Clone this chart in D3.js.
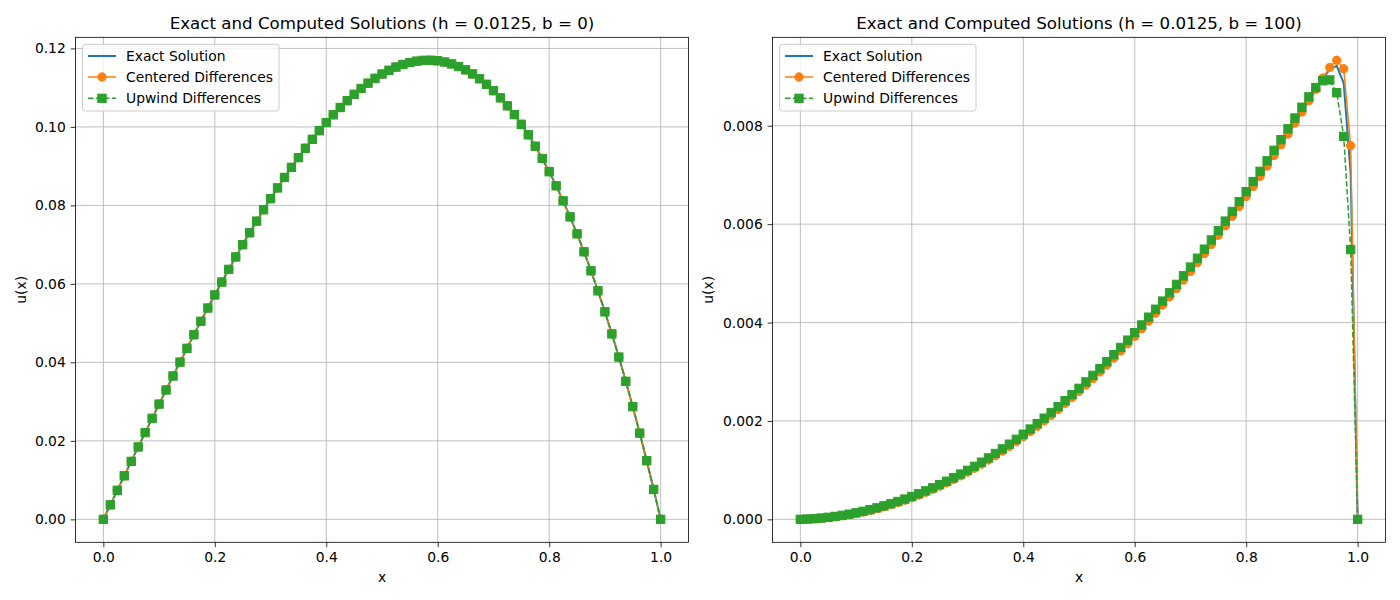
<!DOCTYPE html>
<html>
<head>
<meta charset="utf-8">
<script src="https://cdn.jsdelivr.net/npm/d3@7"></script>
<style>
  body { margin: 0; background: #fff; }
  svg { display: block; }
  text { font-family: "DejaVu Sans", sans-serif; fill: #000; }
</style>
</head>
<body>
<svg id="chart" width="1400" height="600"></svg>
<script>
// ---------------- data ----------------
const xGrid = [0, 0.0125, 0.025, 0.0375, 0.05, 0.0625, 0.075, 0.0875, 0.1, 0.1125, 0.125, 0.1375, 0.15, 0.1625, 0.175, 0.1875,
  0.2, 0.2125, 0.225, 0.2375, 0.25, 0.2625, 0.275, 0.2875, 0.3, 0.3125, 0.325, 0.3375, 0.35, 0.3625, 0.375, 0.3875,
  0.4, 0.4125, 0.425, 0.4375, 0.45, 0.4625, 0.475, 0.4875, 0.5, 0.5125, 0.525, 0.5375, 0.55, 0.5625, 0.575, 0.5875,
  0.6, 0.6125, 0.625, 0.6375, 0.65, 0.6625, 0.675, 0.6875, 0.7, 0.7125, 0.725, 0.7375, 0.75, 0.7625, 0.775, 0.7875,
  0.8, 0.8125, 0.825, 0.8375, 0.85, 0.8625, 0.875, 0.8875, 0.9, 0.9125, 0.925, 0.9375, 0.95, 0.9625, 0.975, 0.9875, 1.0];

// b = 0 panel
const leftExact = [0, 0.003700, 0.007397, 0.011089, 0.014773, 0.018445, 0.022104, 0.025745, 0.029365, 0.032961, 0.036530,
  0.040069, 0.043574, 0.047041, 0.050467, 0.053850, 0.057184, 0.060467, 0.063696, 0.066866, 0.069974, 0.073016, 0.075990,
  0.078890, 0.081715, 0.084459, 0.087119, 0.089692, 0.092174, 0.094561, 0.096849, 0.099035, 0.101115, 0.103085, 0.104941,
  0.106680, 0.108297, 0.109789, 0.111153, 0.112384, 0.113478, 0.114431, 0.115241, 0.115901, 0.116411, 0.116764, 0.116957,
  0.116987, 0.116850, 0.116538, 0.116052, 0.115387, 0.114539, 0.113502, 0.112275, 0.110852, 0.109230, 0.107404, 0.105371,
  0.103126, 0.100666, 0.097987, 0.095085, 0.091955, 0.088593, 0.084995, 0.081158, 0.077078, 0.072749, 0.068169, 0.063333,
  0.058237, 0.052877, 0.047248, 0.041350, 0.035172, 0.028716, 0.021972, 0.014944, 0.007621, 0];
const leftCentered = [0, 0.003700, 0.007397, 0.011089, 0.014773, 0.018445, 0.022104, 0.025745, 0.029365, 0.032961, 0.036530,
  0.040069, 0.043574, 0.047041, 0.050467, 0.053850, 0.057184, 0.060467, 0.063696, 0.066866, 0.069974, 0.073016, 0.075990,
  0.078890, 0.081715, 0.084459, 0.087119, 0.089692, 0.092174, 0.094561, 0.096849, 0.099035, 0.101115, 0.103085, 0.104941,
  0.106680, 0.108297, 0.109789, 0.111153, 0.112384, 0.113478, 0.114431, 0.115241, 0.115901, 0.116411, 0.116764, 0.116957,
  0.116987, 0.116850, 0.116538, 0.116052, 0.115387, 0.114539, 0.113502, 0.112275, 0.110852, 0.109230, 0.107404, 0.105371,
  0.103126, 0.100666, 0.097987, 0.095085, 0.091955, 0.088593, 0.084995, 0.081158, 0.077078, 0.072749, 0.068169, 0.063333,
  0.058237, 0.052877, 0.047248, 0.041350, 0.035172, 0.028716, 0.021972, 0.014944, 0.007621, 0];
const leftUpwind = [0, 0.003700, 0.007397, 0.011089, 0.014773, 0.018445, 0.022104, 0.025745, 0.029365, 0.032961, 0.036530,
  0.040069, 0.043574, 0.047041, 0.050467, 0.053850, 0.057184, 0.060467, 0.063696, 0.066866, 0.069974, 0.073016, 0.075990,
  0.078890, 0.081715, 0.084459, 0.087119, 0.089692, 0.092174, 0.094561, 0.096849, 0.099035, 0.101115, 0.103085, 0.104941,
  0.106680, 0.108297, 0.109789, 0.111153, 0.112384, 0.113478, 0.114431, 0.115241, 0.115901, 0.116411, 0.116764, 0.116957,
  0.116987, 0.116850, 0.116538, 0.116052, 0.115387, 0.114539, 0.113502, 0.112275, 0.110852, 0.109230, 0.107404, 0.105371,
  0.103126, 0.100666, 0.097987, 0.095085, 0.091955, 0.088593, 0.084995, 0.081158, 0.077078, 0.072749, 0.068169, 0.063333,
  0.058237, 0.052877, 0.047248, 0.041350, 0.035172, 0.028716, 0.021972, 0.014944, 0.007621, 0];

// b = 100 panel
const rightExact = [0, 0.00000406, 0.00001125, 0.00002156, 0.000035, 0.00005156, 0.00007125, 0.00009406, 0.00012, 0.00014906,
  0.00018125, 0.00021656, 0.000255, 0.00029656, 0.00034125, 0.00038906, 0.00044, 0.00049406, 0.00055125, 0.00061156,
  0.000675, 0.00074156, 0.00081125, 0.00088406, 0.00096, 0.00103906, 0.00112125, 0.00120656, 0.001295, 0.00138656,
  0.00148125, 0.00157906, 0.00168, 0.00178406, 0.00189125, 0.00200156, 0.002115, 0.00223156, 0.00235125, 0.00247406,
  0.0026, 0.00272906, 0.00286125, 0.00299656, 0.003135, 0.00327656, 0.00342125, 0.00356906, 0.00372, 0.00387406,
  0.00403125, 0.00419156, 0.004355, 0.00452156, 0.00469125, 0.00486406, 0.00504, 0.00521906, 0.00540125, 0.00558656,
  0.005775, 0.00596656, 0.00616125, 0.00635906, 0.00656, 0.00676406, 0.00697125, 0.00718156, 0.007395, 0.00761156,
  0.00783125, 0.00805393, 0.00827954, 0.00850744, 0.00873561, 0.00895687, 0.00914627, 0.00921668, 0.00886398, 0.0070267, 0];
const rightCentered = [0, 0.00000406, 0.00001125, 0.00002156, 0.000035, 0.00005156, 0.00007125, 0.00009406, 0.00012, 0.00014906,
  0.00018125, 0.00021656, 0.000255, 0.00029656, 0.00034125, 0.00038906, 0.00044, 0.00049406, 0.00055125, 0.00061156,
  0.000675, 0.00074156, 0.00081125, 0.00088406, 0.00096, 0.00103906, 0.00112125, 0.00120656, 0.001295, 0.00138656,
  0.00148125, 0.00157906, 0.00168, 0.00178406, 0.00189125, 0.00200156, 0.002115, 0.00223156, 0.00235125, 0.00247406,
  0.0026, 0.00272906, 0.00286125, 0.00299656, 0.003135, 0.00327656, 0.00342125, 0.00356906, 0.00372, 0.00387406,
  0.00403125, 0.00419156, 0.004355, 0.00452156, 0.00469125, 0.00486406, 0.00504, 0.00521906, 0.00540125, 0.00558656,
  0.005775, 0.00596656, 0.00616125, 0.00635906, 0.00656, 0.00676406, 0.00697125, 0.00718156, 0.007395, 0.00761156,
  0.00783125, 0.00805406, 0.00828, 0.0085087, 0.00873971, 0.00896988, 0.00918607, 0.00933121, 0.00915805, 0.00759521, 0];
const rightUpwind = [0, 0.00000563, 0.00001438, 0.00002625, 0.00004125, 0.00005938, 0.00008063, 0.000105, 0.0001325, 0.00016313,
  0.00019688, 0.00023375, 0.00027375, 0.00031688, 0.00036313, 0.0004125, 0.000465, 0.00052063, 0.00057938, 0.00064125,
  0.00070625, 0.00077438, 0.00084563, 0.00092, 0.0009975, 0.00107813, 0.00116188, 0.00124875, 0.00133875, 0.00143188,
  0.00152813, 0.0016275, 0.00173, 0.00183563, 0.00194438, 0.00205625, 0.00217125, 0.00228938, 0.00241063, 0.002535,
  0.0026625, 0.00279313, 0.00292688, 0.00306375, 0.00320375, 0.00334688, 0.00349313, 0.0036425, 0.003795, 0.00395063,
  0.00410938, 0.00427125, 0.00443625, 0.00460438, 0.00477563, 0.00495, 0.0051275, 0.00530813, 0.00549188, 0.00567875,
  0.00586875, 0.00606188, 0.00625813, 0.0064575, 0.00666, 0.00686563, 0.00707426, 0.00728598, 0.00750064, 0.007718,
  0.00793752, 0.00815801, 0.00837678, 0.00858776, 0.0087773, 0.0089147, 0.00893089, 0.00867044, 0.00778362, 0.00548361, 0];

const xTicks = [0, 0.2, 0.4, 0.6, 0.8, 1.0];
const leftYTicks = [0, 0.02, 0.04, 0.06, 0.08, 0.10, 0.12];
const rightYTicks = [0, 0.002, 0.004, 0.006, 0.008];
const seriesNames = ["Exact Solution", "Centered Differences", "Upwind Differences"];
const panelTitles = ["Exact and Computed Solutions (h = 0.0125, b = 0)",
                     "Exact and Computed Solutions (h = 0.0125, b = 100)"];
const xLabel = "x";
const yLabel = "u(x)";

// ---------------- drawing ----------------
const svg = d3.select("#chart");
svg.append("rect").attr("width", 1400).attr("height", 600).attr("fill", "#fff");

const C0 = "#1f77b4", C1 = "#ff7f0e", C2 = "#2ca02c";
const FS = 13.89;            // 10pt
const TICK = 4.86, PAD = 4.86;
const MS = 8.33;             // marker size (6pt)

const panels = [
  { box: { l: 75.5, r: 688.5, t: 37.3, b: 542.3 }, exact: leftExact, centered: leftCentered, upwind: leftUpwind,
    yTicks: leftYTicks, fmt: ".2f", title: panelTitles[0], ylabX: 25.5 },
  { box: { l: 772.5, r: 1385.5, t: 37.3, b: 542.3 }, exact: rightExact, centered: rightCentered, upwind: rightUpwind,
    yTicks: rightYTicks, fmt: ".3f", title: panelTitles[1], ylabX: 713 }
];

panels.forEach(p => {
  const B = p.box;
  const [x0, x1] = d3.extent(xGrid);
  const xm = 0.05 * (x1 - x0);
  const x = d3.scaleLinear().domain([x0 - xm, x1 + xm]).range([B.l, B.r]);
  const all = p.exact.concat(p.centered, p.upwind);
  const [y0, y1] = d3.extent(all);
  const ym = 0.05 * (y1 - y0);
  const y = d3.scaleLinear().domain([y0 - ym, y1 + ym]).range([B.b, B.t]);

  const g = svg.append("g");
  // background
  g.append("rect").attr("x", B.l).attr("y", B.t).attr("width", B.r - B.l).attr("height", B.b - B.t).attr("fill", "#fff");

  // grid
  g.append("g").selectAll("line").data(xTicks).join("line")
    .attr("x1", d => x(d)).attr("x2", d => x(d)).attr("y1", B.t).attr("y2", B.b)
    .attr("stroke", "#b0b0b0").attr("stroke-width", 0.8);
  g.append("g").selectAll("line").data(p.yTicks).join("line")
    .attr("x1", B.l).attr("x2", B.r).attr("y1", d => y(d)).attr("y2", d => y(d))
    .attr("stroke", "#b0b0b0").attr("stroke-width", 0.8);

  // axes
  const ax = g.append("g").attr("transform", `translate(0,${B.b})`)
    .call(d3.axisBottom(x).tickValues(xTicks).tickFormat(d3.format(".1f")).tickSize(TICK).tickPadding(PAD).tickSizeOuter(0));
  const ay = g.append("g").attr("transform", `translate(${B.l},0)`)
    .call(d3.axisLeft(y).tickValues(p.yTicks).tickFormat(d3.format(p.fmt)).tickSize(TICK).tickPadding(PAD).tickSizeOuter(0));
  [ax, ay].forEach(a => {
    a.select(".domain").remove();
    a.selectAll(".tick line").attr("stroke", "#000").attr("stroke-width", 0.8);
    a.selectAll(".tick text").attr("font-size", FS).attr("font-family", "DejaVu Sans").attr("fill", "#000");
  });

  // data
  const line = vals => d3.line().x((d, i) => x(xGrid[i])).y(d => y(d))(vals);
  g.append("path").attr("d", line(p.exact)).attr("fill", "none").attr("stroke", C0)
    .attr("stroke-width", 2).attr("stroke-linejoin", "round").attr("stroke-linecap", "butt");

  g.append("path").attr("d", line(p.centered)).attr("fill", "none").attr("stroke", C1)
    .attr("stroke-width", 1.5).attr("stroke-linejoin", "round");
  g.append("g").selectAll("circle").data(p.centered).join("circle")
    .attr("cx", (d, i) => x(xGrid[i])).attr("cy", d => y(d)).attr("r", MS / 2)
    .attr("fill", C1).attr("stroke", C1).attr("stroke-width", 1);

  g.append("path").attr("d", line(p.upwind)).attr("fill", "none").attr("stroke", C2)
    .attr("stroke-width", 1.5).attr("stroke-dasharray", "5.55,2.4").attr("stroke-linejoin", "round");
  g.append("g").selectAll("rect").data(p.upwind).join("rect")
    .attr("x", (d, i) => x(xGrid[i]) - MS / 2).attr("y", d => y(d) - MS / 2)
    .attr("width", MS).attr("height", MS)
    .attr("fill", C2).attr("stroke", C2).attr("stroke-width", 1);

  // spines
  g.append("rect").attr("x", B.l).attr("y", B.t).attr("width", B.r - B.l).attr("height", B.b - B.t)
    .attr("fill", "none").attr("stroke", "#000").attr("stroke-width", 0.8);

  // title and labels
  g.append("text").attr("x", (B.l + B.r) / 2).attr("y", 29).attr("text-anchor", "middle")
    .attr("font-size", 16.67).text(p.title);
  g.append("text").attr("x", (B.l + B.r) / 2).attr("y", 581.5).attr("text-anchor", "middle")
    .attr("font-size", FS).text(xLabel);
  g.append("text").attr("transform", `translate(${p.ylabX},${(B.t + B.b) / 2}) rotate(-90)`)
    .attr("text-anchor", "middle").attr("font-size", FS).text(yLabel);

  // legend
  const lg = g.append("g").attr("transform", `translate(${B.l},${B.t})`);
  lg.append("rect").attr("x", 7).attr("y", 7).attr("width", 196.5).attr("height", 66.7)
    .attr("rx", 2.8).attr("ry", 2.8).attr("fill", "#fff").attr("fill-opacity", 0.8)
    .attr("stroke", "#cccccc").attr("stroke-width", 1);
  const rows = [18.7, 39.7, 61];
  const hx0 = 12.5, hx1 = 40.5, hxm = (hx0 + hx1) / 2;
  // exact
  lg.append("line").attr("x1", hx0).attr("x2", hx1).attr("y1", rows[0]).attr("y2", rows[0])
    .attr("stroke", C0).attr("stroke-width", 2);
  // centered
  lg.append("line").attr("x1", hx0).attr("x2", hx1).attr("y1", rows[1]).attr("y2", rows[1])
    .attr("stroke", C1).attr("stroke-width", 1.5);
  lg.append("circle").attr("cx", hxm).attr("cy", rows[1]).attr("r", MS / 2)
    .attr("fill", C1).attr("stroke", C1).attr("stroke-width", 1);
  // upwind
  lg.append("line").attr("x1", hx0).attr("x2", hx1).attr("y1", rows[2]).attr("y2", rows[2])
    .attr("stroke", C2).attr("stroke-width", 1.5).attr("stroke-dasharray", "5.55,2.4");
  lg.append("rect").attr("x", hxm - MS / 2).attr("y", rows[2] - MS / 2).attr("width", MS).attr("height", MS)
    .attr("fill", C2).attr("stroke", C2).attr("stroke-width", 1);
  seriesNames.forEach((n, i) => {
    lg.append("text").attr("x", 50.5).attr("y", rows[i]).attr("dy", "0.36em")
      .attr("font-size", FS).text(n);
  });
});
</script>
</body>
</html>
